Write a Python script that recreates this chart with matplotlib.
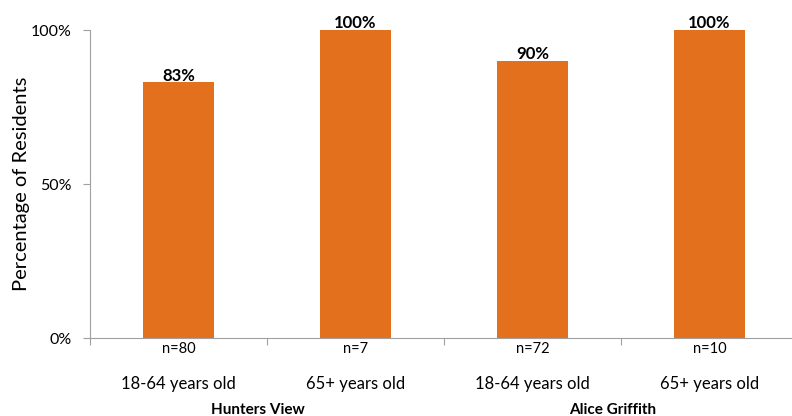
import numpy as np
import matplotlib.pyplot as plt
from matplotlib.ticker import PercentFormatter

plt.rcParams['font.family'] = ['Lato', 'DejaVu Sans']

groups = ['Hunters View', 'Alice Griffith']
ages = ['18-64 years old', '65+ years old', '18-64 years old', '65+ years old']
counts = ['n=80', 'n=7', 'n=72', 'n=10']
values = [83, 100, 90, 100]
labels = ['83%', '100%', '90%', '100%']

fig = plt.figure(figsize=(7.92, 4.16), dpi=100)
ax = fig.add_axes([90 / 792, 1 - 338 / 416, 708 / 792, 308 / 416])

x = np.arange(len(values))
bars = ax.bar(x, values, width=0.4, color='#E3701D')

for b, lab in zip(bars, labels):
    ax.annotate(lab, (b.get_x() + b.get_width() / 2, b.get_height()),
                xytext=(0, -1), textcoords='offset points',
                ha='center', va='bottom', fontsize=12, fontweight='bold')

ax.set_xlim(-0.5, 3.5)
ax.set_ylim(0, 100)
ax.set_yticks([0, 50, 100])
ax.yaxis.set_major_formatter(PercentFormatter(decimals=0))
ax.set_ylabel('Percentage of Residents', fontsize=14.5, labelpad=1)

# tick marks at category boundaries, labels under bars
ax.set_xticks(np.arange(-0.5, 4, 1))
ax.set_xticklabels([])
ax.set_xticks(x, minor=True)
ax.set_xticklabels(counts, minor=True)
ax.tick_params(axis='x', which='minor', length=0, pad=3, labelsize=10.5)
ax.tick_params(axis='x', which='major', length=5, direction='out', color='#a0a0a0')
ax.tick_params(axis='y', length=5, color='#a0a0a0', labelsize=11.5, pad=8)

for xi, a in zip(x, ages):
    ax.text(xi, -15, a, ha='center', va='center', fontsize=12, clip_on=False)
for gi, g in enumerate(groups):
    ax.text(gi * 2 + 0.45, -23.5, g, ha='center', va='center',
            fontsize=11, fontweight='bold', clip_on=False)

for s in ['top', 'right']:
    ax.spines[s].set_visible(False)
ax.spines['left'].set_color('#a0a0a0')
ax.spines['bottom'].set_color('#a0a0a0')

fig.savefig('out.png', dpi=100)
